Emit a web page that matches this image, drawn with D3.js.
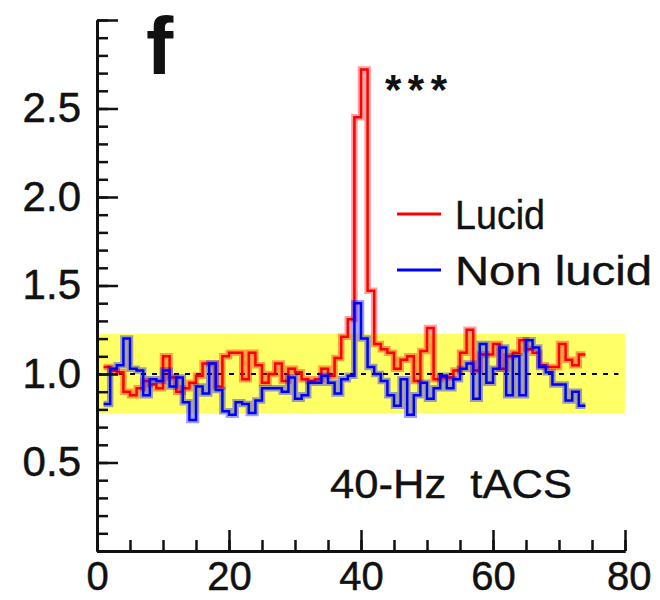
<!doctype html>
<html>
<head>
  <script src="https://d3js.org/d3.v7.min.js"></script>
  <style>
    body { margin: 0; background: white; }
    text { font-family: "Liberation Sans", Arial, Helvetica, sans-serif; fill: #111; }
  </style>
</head>
<body>
<svg id="chart" width="660" height="600"></svg>
<script>
// bins start at 1 Hz, width 1 Hz
var binStart = 1;
var lucid = [1.04, 1.02, 1.01, 0.90, 0.88, 0.92, 0.96, 0.94, 0.92, 1.10,
             0.98, 0.90, 0.92, 0.95, 0.99, 1.06, 1.06, 0.93, 1.10, 1.12,
             1.12, 0.97, 1.12, 1.05, 0.95, 1.00, 1.06, 0.96, 1.03, 1.01,
             0.97, 0.96, 0.97, 1.03, 0.99, 1.09, 1.21, 1.31, 2.45, 2.72,
             1.47, 1.17, 1.14, 1.12, 1.03, 1.08, 1.10, 0.96, 1.13, 1.26,
             0.97, 0.98, 0.98, 1.02, 1.12, 1.25, 1.02, 1.11, 1.11, 1.17,
             1.03, 1.10, 1.12, 1.19, 1.14, 1.12, 1.05, 1.04, 1.04, 1.17,
             1.08, 1.05, 1.11];
var nonLucid = [0.83, 1.03, 1.05, 1.20, 1.03, 1.02, 0.88, 0.97, 0.96, 1.02,
                0.93, 0.98, 0.84, 0.74, 0.93, 0.89, 1.06, 0.91, 0.79, 0.77,
                0.84, 0.83, 0.78, 0.85, 0.92, 0.92, 0.92, 0.90, 0.98, 0.86,
                0.88, 0.95, 0.95, 0.99, 0.95, 0.89, 0.97, 0.99, 1.40, 1.20,
                1.04, 1.00, 0.96, 0.88, 0.82, 0.97, 0.77, 0.88, 0.95, 0.86,
                0.92, 0.99, 0.92, 0.97, 1.03, 1.06, 0.86, 1.17, 0.95, 1.03,
                1.15, 0.88, 1.10, 0.88, 1.19, 1.15, 1.04, 1.01, 0.94, 0.94,
                0.85, 0.90, 0.82];
var band = [0.777, 1.228];   // shaded range
var xTicks = [0, 20, 40, 60, 80];
var yTicks = [0, 0.5, 1.0, 1.5, 2.0, 2.5, 3.0];
var seriesNames = ["Lucid", "Non lucid"];
var seriesColors = ["#ff0000", "#0000ff"];

var svg = d3.select("#chart");
var x = d3.scaleLinear().domain([0, 80]).range([97, 625]);
var y = d3.scaleLinear().domain([0, 3]).range([551, 20]);

// yellow band
svg.append("rect")
  .attr("x", x(0)).attr("width", x(80) - x(0))
  .attr("y", y(band[1])).attr("height", y(band[0]) - y(band[1]))
  .attr("fill", "#ffff66");

// dashed reference line at 1
svg.append("line")
  .attr("x1", x(0)).attr("x2", x(79))
  .attr("y1", y(1)).attr("y2", y(1))
  .attr("stroke", "#000").attr("stroke-width", 2)
  .attr("stroke-dasharray", "5,6");

var line = d3.line()
  .x(function(d) { return x(d[0]); })
  .y(function(d) { return y(d[1]); })
  .curve(d3.curveStepAfter);

function steps(vals) {
  var pts = vals.map(function(v, i) { return [binStart + i, v]; });
  pts.push([binStart + vals.length, vals[vals.length - 1]]);
  return pts;
}

[lucid, nonLucid].forEach(function(vals, i) {
  var g = svg.append("g");
  // soft halo, like the blurred original
  g.append("path").attr("d", line(steps(vals)))
    .attr("fill", "none").attr("stroke", seriesColors[i])
    .attr("stroke-opacity", 0.38).attr("stroke-width", 6.5)
    .attr("stroke-linejoin", "miter");
  g.append("path").attr("d", line(steps(vals)))
    .attr("fill", "none").attr("stroke", seriesColors[i])
    .attr("stroke-width", 2.5);
});

// axes
var yMajor = d3.axisLeft(y).tickValues(yTicks).tickSizeInner(-21).tickSizeOuter(0)
  .tickPadding(16)
  .tickFormat(function(d) { return (d === 0 || d === 3) ? "" : d3.format(".1f")(d); });
var yMinor = d3.axisLeft(y).tickValues(d3.range(0, 31).map(function(d) { return d / 10; }))
  .tickSizeInner(-11).tickSizeOuter(0).tickFormat("");
var xMajor = d3.axisBottom(x).tickValues(xTicks).tickSizeInner(-21).tickSizeOuter(0)
  .tickPadding(11).tickFormat(d3.format("d"));
var xMinor = d3.axisBottom(x).tickValues(d3.range(0, 81, 5))
  .tickSizeInner(-11).tickSizeOuter(0).tickFormat("");

[[yMinor, "translate(97,0)", "42px"], [yMajor, "translate(97,0)", "42px"],
 [xMinor, "translate(0,551)", "40px"], [xMajor, "translate(0,551)", "40px"]].forEach(function(a) {
  var g = svg.append("g").attr("transform", a[1]).call(a[0]);
  g.select(".domain").attr("stroke", "#111").attr("stroke-width", 3);
  g.selectAll(".tick line").attr("stroke", "#111").attr("stroke-width", 2.5);
  g.selectAll("text").style("font-size", a[2]).attr("fill", "#111")
    .attr("stroke", "#111").attr("stroke-width", 0.5);
});
// keep the "80" label inside the window
svg.selectAll("text").filter(function() { return this.textContent === "80"; })
  .attr("text-anchor", "end").attr("x", 26);

// panel letter
svg.append("text").attr("x", 146).attr("y", 74)
  .style("font-size", "82px").style("font-weight", "bold").text("f");

// significance stars
svg.append("text").attr("x", 385).attr("y", 104)
  .attr("textLength", 62).attr("lengthAdjust", "spacing")
  .style("font-size", "42px").style("font-weight", "bold").text("***");

// legend
var legendWidths = [90, 197];
seriesNames.forEach(function(name, i) {
  var ly = 214 + i * 56;
  svg.append("line").attr("x1", 397).attr("x2", 441)
    .attr("y1", ly).attr("y2", ly)
    .attr("stroke", seriesColors[i]).attr("stroke-width", 3);
  svg.append("text").attr("x", 455).attr("y", ly + 15)
    .attr("textLength", legendWidths[i]).attr("lengthAdjust", "spacingAndGlyphs")
    .attr("stroke", "#111").attr("stroke-width", 0.4)
    .style("font-size", "40px").text(name);
});

svg.append("text").attr("x", 330).attr("y", 498)
  .attr("textLength", 242).attr("lengthAdjust", "spacingAndGlyphs")
  .attr("stroke", "#111").attr("stroke-width", 0.4)
  .style("font-size", "40px").attr("xml:space", "preserve").text("40-Hz  tACS");
</script>
</body>
</html>
